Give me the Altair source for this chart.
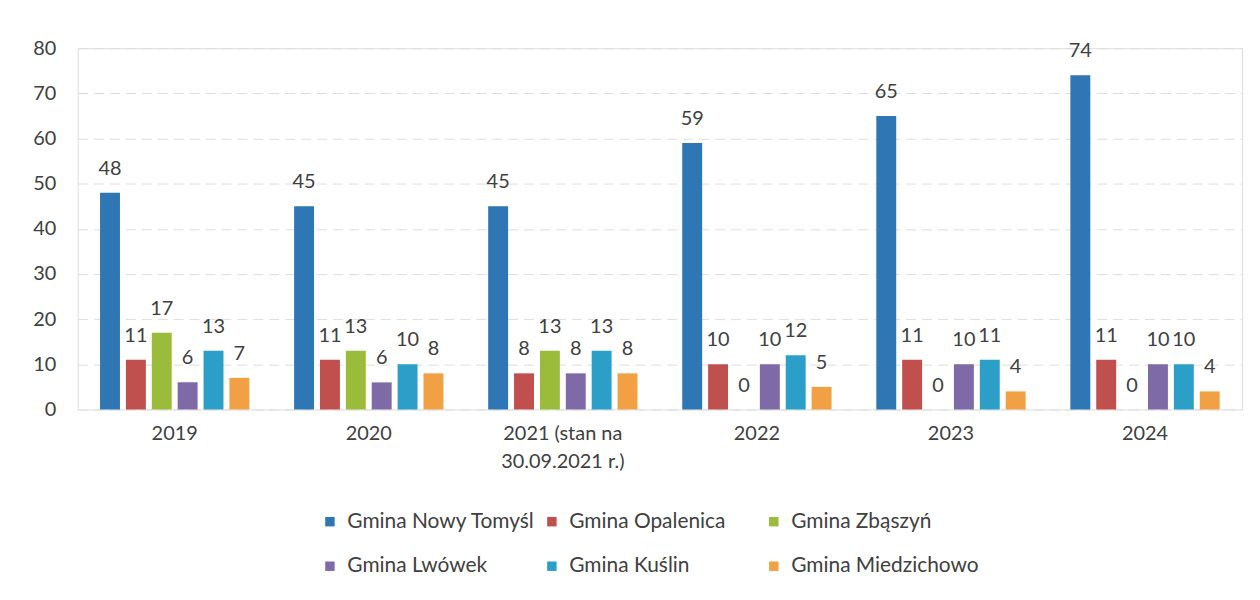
import altair as alt
import pandas as pd

categories = ["2019", "2020", "2021 (stan na\n30.09.2021 r.)", "2022", "2023", "2024"]
series = ["Gmina Nowy Tomyśl", "Gmina Opalenica", "Gmina Zbąszyń",
          "Gmina Lwówek", "Gmina Kuślin", "Gmina Miedzichowo"]
colors = ["#2f76b5", "#c0504d", "#9bbb3b", "#7f6aa8", "#2b9fc8", "#f2a044"]

nowy_tomysl = [48, 45, 45, 59, 65, 74]
opalenica = [11, 11, 8, 10, 11, 11]
zbaszyn = [17, 13, 13, 0, 0, 0]
lwowek = [6, 6, 8, 10, 10, 10]
kuslin = [13, 10, 13, 12, 11, 10]
miedzichowo = [7, 8, 8, 5, 4, 4]

y_ticks = [0, 10, 20, 30, 40, 50, 60, 70, 80]

values = [nowy_tomysl, opalenica, zbaszyn, lwowek, kuslin, miedzichowo]
rows = []
for s, vals in zip(series, values):
    for c, v in zip(categories, vals):
        rows.append({"rok": c, "gmina": s, "wartosc": v})
df = pd.DataFrame(rows)

FONT = "Lato"
TXT = "#404040"

x = alt.X("rok:N", sort=categories, title=None,
          scale=alt.Scale(paddingInner=0.2, paddingOuter=0.1),
          axis=alt.Axis(labelAngle=0, labelFontSize=20, labelColor=TXT, labelFont=FONT,
                        labelPadding=14, ticks=False, domain=False,
                        labelExpr="split(datum.value, '\\n')", labelLineHeight=28))
xoff = alt.XOffset("gmina:N", sort=series,
                   scale=alt.Scale(paddingInner=0.23, paddingOuter=0.115))
y = alt.Y("wartosc:Q", title=None,
          scale=alt.Scale(domain=[0, 80], nice=False),
          axis=alt.Axis(values=y_ticks, labelFontSize=20, labelColor=TXT, labelFont=FONT,
                        labelPadding=22, ticks=False, domain=False,
                        gridColor="#dedede", gridDash=[10, 6], gridWidth=1))
color = alt.Color("gmina:N", sort=series,
                  scale=alt.Scale(domain=series, range=colors),
                  legend=alt.Legend(title=None, orient="none", legendX=243, legendY=465,
                                    columns=3, direction="horizontal", gridAlign="all",
                                    columnPadding=6, rowPadding=23, padding=0,
                                    symbolType="square", symbolSize=90, symbolStrokeWidth=0,
                                    labelFontSize=21, labelFont=FONT, labelColor=TXT,
                                    labelOffset=7, labelLimit=400))

base = alt.Chart(df).encode(x=x, xOffset=xoff)
bars = base.mark_bar().encode(y=y, color=color)
labels = base.mark_text(baseline="alphabetic", dy=-18, fontSize=20, font=FONT, color=TXT).encode(
    y="wartosc:Q", text="wartosc:Q")

chart = (bars + labels).properties(
    width=1170, height=363,
    autosize=alt.AutoSizeParams(type="none"),
    padding={"left": 70, "top": 39, "right": 10, "bottom": 180},
).configure_view(stroke=None).configure(background="white")

chart.save("out.html", embed_options={"renderer": "svg", "actions": False})
